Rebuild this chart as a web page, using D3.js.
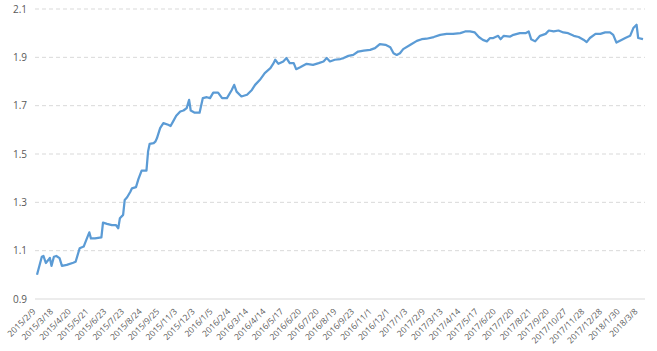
<!DOCTYPE html>
<html>
<head>
<meta charset="utf-8">
<script src="https://d3js.org/d3.v7.min.js"></script>
<style>
body { margin: 0; background: #fff; }
text { font-family: "Open Sans", "Liberation Sans", sans-serif; fill: #595959; }
</style>
</head>
<body>
<svg id="chart" width="657" height="351"></svg>
<script>
// trading day index (0 = 2015/2/9) and net value
var dayIndex = [0, 6, 8, 11, 14, 16, 18, 21, 24, 28, 31, 37, 45, 48, 53, 58, 62, 65, 67, 72,
	80, 82, 87, 93, 98, 101, 103, 107, 109, 112, 116, 118, 123, 126, 130, 136, 138, 140, 145, 147,
	149, 153, 157, 163, 166, 169, 173, 178, 182, 186, 189, 191, 196, 202, 206, 211, 215, 219, 225, 230,
	236, 242, 245, 248, 254, 261, 267, 271, 277, 283, 290, 294, 296, 300, 306, 310, 314, 319, 322, 327,
	335, 343, 350, 356, 360, 364, 370, 377, 381, 387, 393, 399, 406, 414, 420, 426, 433, 439, 443, 447,
	451, 455, 464, 472, 478, 484, 493, 501, 509, 517, 526, 532, 538, 544, 549, 554, 559, 563, 567, 573,
	576, 580, 588, 592, 600, 607, 611, 614, 619, 625, 632, 636, 642, 648, 654, 660, 667, 673, 679, 683,
	687, 694, 700, 706, 712, 716, 720, 725, 731, 737, 741, 745, 747, 753];

var navValues = [1.000, 1.075, 1.078, 1.049, 1.061, 1.070, 1.037, 1.075, 1.078, 1.069, 1.037, 1.041, 1.050, 1.054, 1.110, 1.117, 1.151, 1.176, 1.151, 1.151,
	1.155, 1.216, 1.211, 1.206, 1.206, 1.193, 1.234, 1.248, 1.310, 1.321, 1.344, 1.358, 1.363, 1.396, 1.431, 1.431, 1.510, 1.542, 1.545, 1.551,
	1.565, 1.607, 1.628, 1.621, 1.616, 1.634, 1.658, 1.676, 1.680, 1.690, 1.724, 1.680, 1.671, 1.671, 1.731, 1.735, 1.731, 1.754, 1.754, 1.731,
	1.731, 1.765, 1.786, 1.758, 1.738, 1.745, 1.765, 1.786, 1.807, 1.835, 1.855, 1.876, 1.890, 1.873, 1.883, 1.897, 1.876, 1.876, 1.851, 1.859,
	1.873, 1.869, 1.876, 1.883, 1.897, 1.883, 1.890, 1.893, 1.897, 1.906, 1.910, 1.924, 1.928, 1.931, 1.938, 1.955, 1.952, 1.942, 1.917, 1.910,
	1.917, 1.934, 1.952, 1.968, 1.975, 1.977, 1.984, 1.993, 1.997, 1.997, 2.000, 2.007, 2.007, 2.003, 1.984, 1.972, 1.966, 1.980, 1.980, 1.989,
	1.975, 1.989, 1.986, 1.993, 2.000, 2.000, 2.007, 1.975, 1.966, 1.989, 1.997, 2.011, 2.007, 2.011, 2.003, 2.000, 1.989, 1.984, 1.973, 1.963,
	1.980, 1.997, 1.997, 2.003, 2.003, 1.993, 1.961, 1.970, 1.980, 1.989, 2.021, 2.035, 1.980, 1.975];

var dayCount = 754;
var labelStep = 22;
var tickLabels = ["2015/2/9", "2015/3/18", "2015/4/20", "2015/5/21", "2015/6/23", "2015/7/23", "2015/8/24",
	"2015/9/25", "2015/11/3", "2015/12/3", "2016/1/5", "2016/2/4", "2016/3/14", "2016/4/14", "2016/5/17",
	"2016/6/20", "2016/7/20", "2016/8/19", "2016/9/23", "2016/11/1", "2016/12/1", "2017/1/3", "2017/2/9",
	"2017/3/13", "2017/4/14", "2017/5/17", "2017/6/20", "2017/7/20", "2017/8/21", "2017/9/20", "2017/10/27",
	"2017/11/28", "2017/12/28", "2018/1/30", "2018/3/8"];
var yTicks = [0.9, 1.1, 1.3, 1.5, 1.7, 1.9, 2.1];

var svg = d3.select("#chart");

var x = d3.scaleLinear().domain([0, dayCount - 1]).range([37, 643]);
var y = d3.scaleLinear().domain([0.9, 2.1]).range([299, 9]);

// gridlines + y labels
function makeGrid(){
	var g = svg.append("g");
	g.selectAll("line").data(yTicks).enter().append("line")
		.attr("x1", 35)
		.attr("x2", 645)
		.attr("y1", function(d){ return y(d); })
		.attr("y2", function(d){ return y(d); })
		.attr("stroke", "#d9d9d9")
		.attr("stroke-width", 1)
		.attr("stroke-dasharray", function(d){ return d == 0.9 ? null : "4,3"; });
	g.selectAll("text").data(yTicks).enter().append("text")
		.text(function(d){ return d.toFixed(1); })
		.attr("x", 27)
		.attr("y", function(d){ return y(d); })
		.attr("dy", "0.35em")
		.attr("text-anchor", "end")
		.style("font-size", "10px");
}

function makeXLabels(){
	svg.append("g").selectAll("text").data(tickLabels).enter().append("text")
		.text(function(d){ return d; })
		.attr("text-anchor", "end")
		.attr("transform", function(d, i){
			return "translate(" + (x(i * labelStep) - 3) + ",310) rotate(-45)";
		})
		.attr("dy", "0.35em")
		.style("font-size", "8.5px");
}

function makeLine(){
	var pts = dayIndex.map(function(d, i){ return [d, navValues[i]]; });
	var line = d3.line()
		.x(function(d){ return x(d[0]); })
		.y(function(d){ return y(d[1]); });
	svg.append("path")
		.datum(pts)
		.attr("d", line)
		.attr("fill", "none")
		.attr("stroke", "#5b9bd5")
		.attr("stroke-width", 2.25)
		.attr("stroke-linejoin", "round");
}

makeGrid();
makeXLabels();
makeLine();
</script>
</body>
</html>
